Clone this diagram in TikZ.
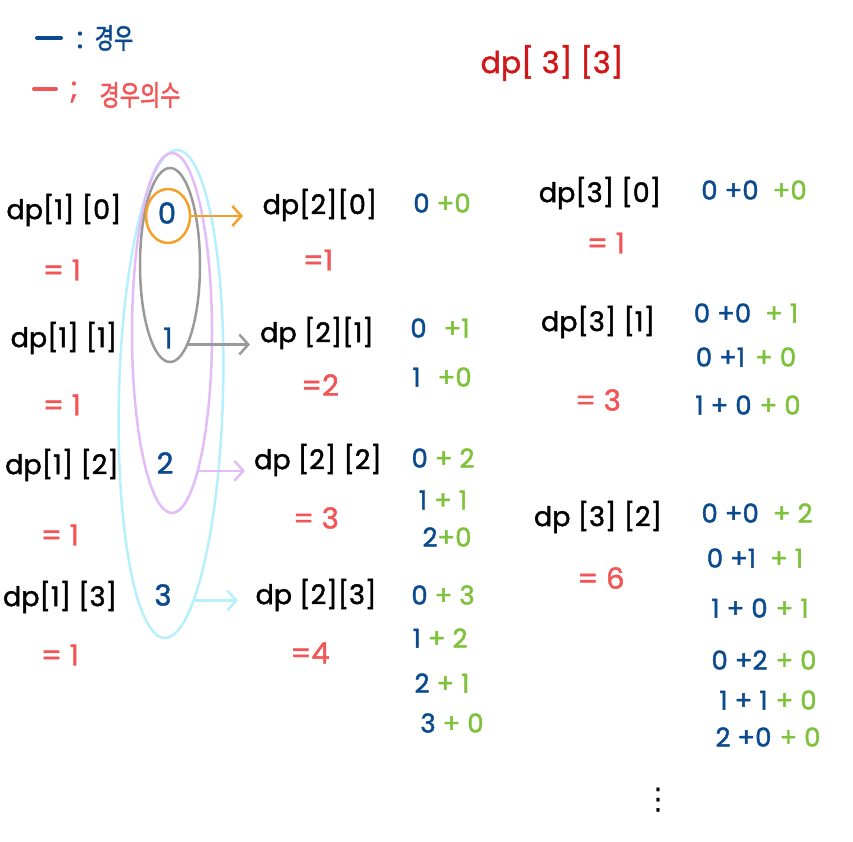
\documentclass[tikz,border=0pt]{standalone}
\usepackage{fontspec}
\setmainfont{Poppins}[FakeBold=1.6]
\newfontfamily\kr{Noto Sans CJK KR}[FakeBold=1.6]
\newfontfamily\dv{DejaVu Sans}
\usetikzlibrary{arrows.meta,shapes.geometric}
\definecolor{cblue}{HTML}{0B4A8E}
\definecolor{cred}{HTML}{F25555}
\definecolor{cgreen}{HTML}{7DC23A}
\definecolor{corange}{HTML}{F5A02A}
\definecolor{cgray}{HTML}{9A9A9A}
\definecolor{clav}{HTML}{E2BBF7}
\definecolor{ccyan}{HTML}{B5F0FC}
\definecolor{cdred}{HTML}{D01818}
\newcommand{\B}[1]{\textcolor{cblue}{#1}}
\newcommand{\G}[1]{\textcolor{cgreen}{#1}}
\begin{document}
\begin{tikzpicture}[x=1pt,y=-1pt,
 dpl/.style={font=\fontsize{27}{30}\selectfont, text=black, inner sep=0pt},
 eq/.style={font=\fontsize{29}{32}\selectfont, text=cred, inner sep=0pt},
 num/.style={font=\fontsize{29}{32}\selectfont, text=cblue, inner sep=0pt},
 sm/.style={font=\fontsize{26}{30}\selectfont, inner sep=0pt},
 ring/.style={draw, ellipse, line width=2.5pt, inner sep=0pt},
 arr/.style={line width=2.5pt, -{Straight Barb[length=9pt,width=20pt]}},
]
\useasboundingbox (0,0) rectangle (853,842);
% legend
\coordinate (lb1) at (37,38); \coordinate (lb2) at (61,38);
\draw[cblue, line width=4pt, line cap=round] (lb1) -- (lb2);
\node[text=cblue, font=\fontsize{30}{34}\selectfont, inner sep=0pt] (lc1) at (80,40) {:};
\node[text=cblue, font=\kr\fontsize{21}{24}\selectfont, inner sep=0pt, yscale=1.35] (lt1) at (114,38) {경우};
\coordinate (lr1) at (34,89); \coordinate (lr2) at (56,89);
\draw[cred, line width=4pt, line cap=round] (lr1) -- (lr2);
\node[text=cred, font=\fontsize{30}{34}\selectfont, inner sep=0pt] (lc2) at (74,92) {;};
\node[text=cred, font=\kr\fontsize{22}{26}\selectfont, inner sep=0pt, yscale=1.3] (lt2) at (140,95) {경우의수};
% title
\node[text=cdred, font=\fontsize{30}{34}\selectfont, inner sep=0pt] (title) at (552,63) {dp[ 3] [3]};
% column 1
\node[dpl] (d10) at (64,210) {dp[1] [0]};
\node[eq] (e10) at (62,270) {= 1};
\node[dpl] (d11) at (64,338) {dp[1] [1]};
\node[eq] (e11) at (62,405) {= 1};
\node[dpl] (d12) at (62,465) {dp[1] [2]};
\node[eq] (e12) at (60,535) {= 1};
\node[dpl] (d13) at (60,597) {dp[1] [3]};
\node[eq] (e13) at (60,655) {= 1};
% numbers
\node[num] (n0) at (167,213) {0};
\node[num] (n1) at (168,338) {1};
\node[num] (n2) at (165,463) {2};
\node[num] (n3) at (163,595) {3};
% rings
\node[ring, draw=ccyan, minimum width=104pt, minimum height=488pt, rotate=-1.5] (r3) at (171,394) {};
\node[ring, draw=clav, minimum width=80pt, minimum height=360pt] (r2) at (172,333) {};
\node[ring, draw=cgray, minimum width=60pt, minimum height=194pt] (r1) at (170,265) {};
\node[ring, draw=corange, minimum width=44pt, minimum height=54pt] (r0) at (168,216) {};
% column 2
\node[dpl] (d20) at (320,205) {dp[2][0]};
\node[eq] (e20) at (318,260) {=1};
\node[dpl] (d21) at (317,333) {dp [2][1]};
\node[eq] (e21) at (320,385) {=2};
\node[dpl] (d22) at (318,460) {dp [2] [2]};
\node[eq] (e22) at (316,518) {= 3};
\node[dpl] (d23) at (316,595) {dp [2][3]};
\node[eq] (e23) at (310,653) {=4};
% arrows
\coordinate (a0) at (243,213);
\coordinate (a1) at (250,343);
\coordinate (a2) at (245,467);
\coordinate (a3) at (238,597);
\draw[arr, corange] (r0.east) -- (r0.east -| a0);
\draw[arr, cgray] (r1.-77) -- (r1.-77 -| a1);
\draw[arr, clav] (r2.-79) -- (r2.-79 -| a2);
\draw[arr, ccyan] (r3.-82) -- (r3.-82 -| a3);
% column 3 sums
\node[sm] (s20) at (442,203) {\B{0} \G{+0}};
\node[sm] (s21a) at (440,328) {\B{0}\hspace{10pt} \G{+1}};
\node[sm] (s21b) at (442,377) {\B{1}\hspace{10pt} \G{+0}};
\node[sm] (s22a) at (443,458) {\B{0} \G{+ 2}};
\node[sm] (s22b) at (443,500) {\B{1} \G{+ 1}};
\node[sm] (s22c) at (447,537) {\B{2}\G{+0}};
\node[sm] (s23a) at (443,595) {\B{0} \G{+ 3}};
\node[sm] (s23b) at (440,638) {\B{1} \G{+ 2}};
\node[sm] (s23c) at (442,683) {\B{2} \G{+ 1}};
\node[sm] (s23d) at (452,723) {\B{3} \G{+ 0}};
% column 4
\node[dpl] (d30) at (600,193) {dp[3] [0]};
\node[eq] (e30) at (606,243) {= 1};
\node[dpl] (d31) at (598,322) {dp[3] [1]};
\node[eq] (e31) at (598,400) {= 3};
\node[dpl] (d32) at (598,517) {dp [3] [2]};
\node[eq] (e32) at (601,578) {= 6};
\node[sm] (t30) at (754,190) {\B{0 +0}\hspace{14pt}\G{+0}};
\node[sm] (t31a) at (746,313) {\B{0 +0}\hspace{14pt}\G{+ 1}};
\node[sm] (t31b) at (746,357) {\B{0 +1}\hspace{10pt}\G{+ 0}};
\node[sm] (t31c) at (748,405) {\B{1 + 0}\hspace{8pt}\G{+ 0}};
\node[sm] (t32a) at (757,513) {\B{0 +0}\hspace{14pt}\G{+ 2}};
\node[sm] (t32b) at (755,558) {\B{0 +1}\hspace{14pt}\G{+ 1}};
\node[sm] (t32c) at (760,608) {\B{1 + 0}\hspace{8pt}\G{+ 1}};
\node[sm] (t32d) at (764,660) {\B{0 +2}\hspace{8pt}\G{+ 0}};
\node[sm] (t32e) at (768,700) {\B{1 + 1}\hspace{8pt}\G{+ 0}};
\node[sm] (t32f) at (768,737) {\B{2 +0}\hspace{8pt}\G{+ 0}};
\node[font=\dv\fontsize{30}{34}\selectfont, inner sep=0pt] (vd) at (658,800) {⋮};
\end{tikzpicture}
\end{document}
